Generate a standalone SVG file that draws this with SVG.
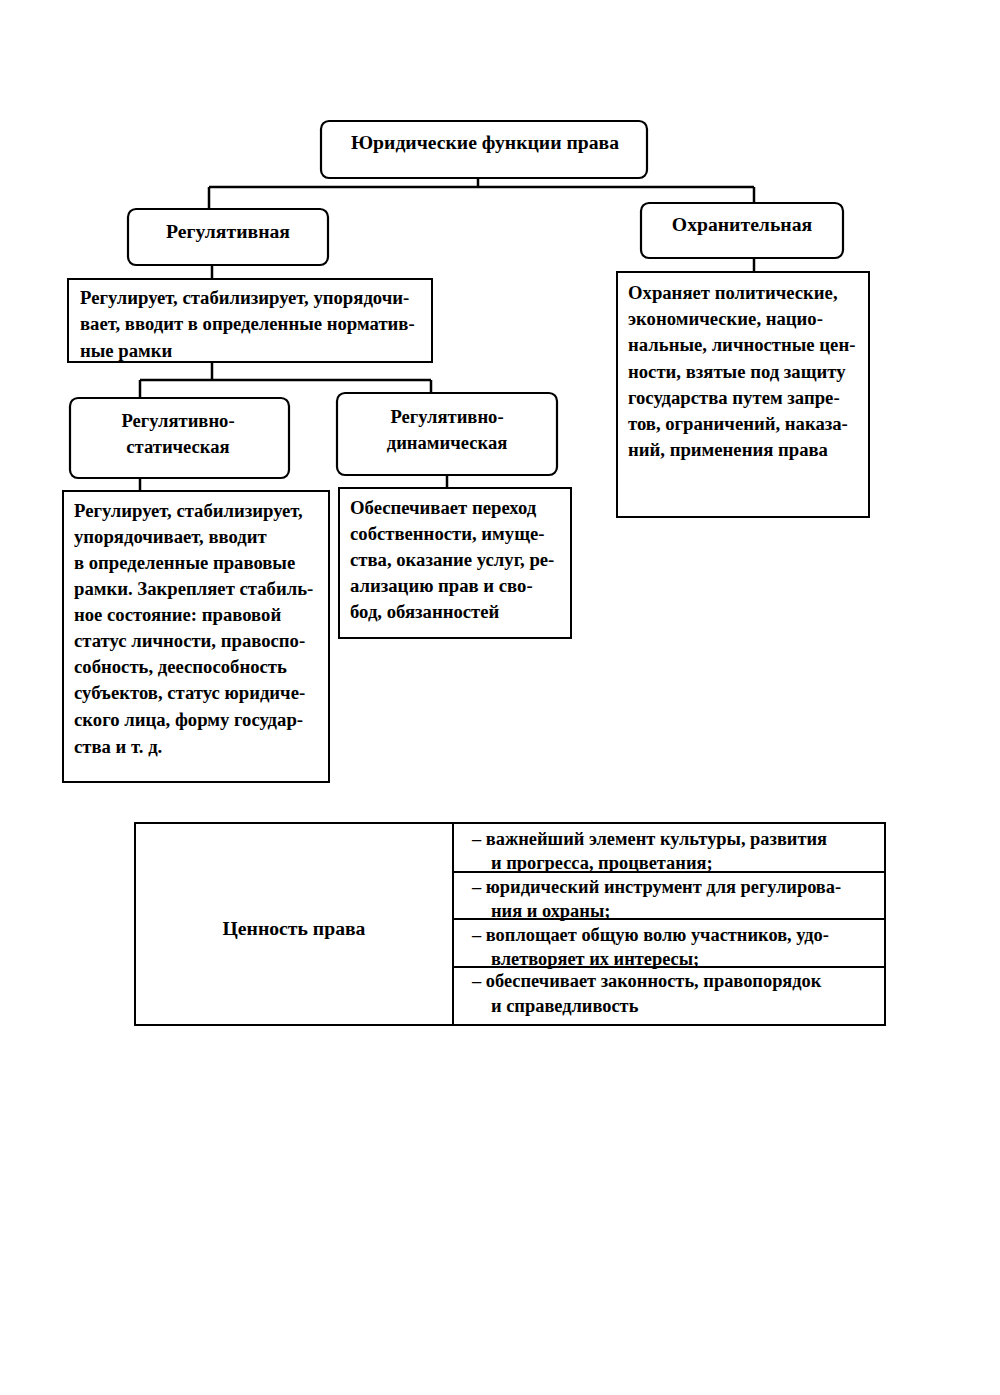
<svg xmlns="http://www.w3.org/2000/svg" width="1000" height="1395" viewBox="0 0 1000 1395">
<style>
.rbox{fill:#fff;stroke:#000;stroke-width:2.2}
.box{fill:#fff;stroke:#000;stroke-width:2}
.con{fill:none;stroke:#000;stroke-width:2.5}
.h{font-family:"Liberation Serif","Times New Roman",serif;font-weight:bold;font-size:19.7px;fill:#000;text-anchor:middle}
.s{font-family:"Liberation Serif","Times New Roman",serif;font-weight:bold;font-size:18.6px;fill:#000;text-anchor:middle}
.t{font-family:"Liberation Serif","Times New Roman",serif;font-weight:bold;font-size:18.7px;fill:#000}
.tb{font-family:"Liberation Serif","Times New Roman",serif;font-weight:bold;font-size:18.4px;fill:#000}
</style>
<rect width="1000" height="1395" fill="#fff"/>
<g id="connectors">
<path class="con" d="M478 178V187M209 187H754M209 187V209M754 187V203"/>
<path class="con" d="M212 265V279"/>
<path class="con" d="M754 258V272"/>
<path class="con" d="M212 362V380M140 380H431M140 380V398M431 380V393"/>
<path class="con" d="M140 478V491"/>
<path class="con" d="M447 475V488"/>
</g>
<g id="root">
<rect class="rbox" x="321" y="121" width="326" height="57" rx="8"/>
<text class="h" x="485" y="149">Юридические функции права</text>
</g>
<g id="regulative">
<rect class="rbox" x="128" y="209" width="200" height="56" rx="8"/>
<text class="h" x="228" y="238">Регулятивная</text>
</g>
<g id="regulative-desc">
<rect class="box" x="68" y="279" width="364" height="83"/>
<text class="t" x="80" y="304">Регулирует, стабилизирует, упорядочи-</text>
<text class="t" x="80" y="330">вает, вводит в определенные норматив-</text>
<text class="t" x="80" y="357">ные рамки</text>
</g>
<g id="protective">
<rect class="rbox" x="641" y="203" width="202" height="55" rx="8"/>
<text class="h" x="742" y="231">Охранительная</text>
</g>
<g id="protective-desc">
<rect class="box" x="617" y="272" width="252" height="245"/>
<text class="t" x="628" y="299">Охраняет политические,</text>
<text class="t" x="628" y="325">экономические, нацио-</text>
<text class="t" x="628" y="351">нальные, личностные цен-</text>
<text class="t" x="628" y="378">ности, взятые под защиту</text>
<text class="t" x="628" y="404">государства путем запре-</text>
<text class="t" x="628" y="430">тов, ограничений, наказа-</text>
<text class="t" x="628" y="456">ний, применения права</text>
</g>
<g id="static">
<rect class="rbox" x="70" y="398" width="219" height="80" rx="8"/>
<text class="s" x="178" y="427">Регулятивно-</text>
<text class="s" x="178" y="453">статическая</text>
</g>
<g id="static-desc">
<rect class="box" x="63" y="491" width="266" height="291"/>
<text class="t" x="74" y="517">Регулирует, стабилизирует,</text>
<text class="t" x="74" y="543">упорядочивает, вводит</text>
<text class="t" x="74" y="569">в определенные правовые</text>
<text class="t" x="74" y="595">рамки. Закрепляет стабиль-</text>
<text class="t" x="74" y="621">ное состояние: правовой</text>
<text class="t" x="74" y="647">статус личности, правоспо-</text>
<text class="t" x="74" y="673">собность, дееспособность</text>
<text class="t" x="74" y="699">субъектов, статус юридиче-</text>
<text class="t" x="74" y="726">ского лица, форму государ-</text>
<text class="t" x="74" y="753">ства и т. д.</text>
</g>
<g id="dynamic">
<rect class="rbox" x="337" y="393" width="220" height="82" rx="8"/>
<text class="s" x="447" y="423">Регулятивно-</text>
<text class="s" x="447" y="449">динамическая</text>
</g>
<g id="dynamic-desc">
<rect class="box" x="339" y="488" width="232" height="150"/>
<text class="t" x="350" y="514">Обеспечивает переход</text>
<text class="t" x="350" y="540">собственности, имуще-</text>
<text class="t" x="350" y="566">ства, оказание услуг, ре-</text>
<text class="t" x="350" y="592">ализацию прав и сво-</text>
<text class="t" x="350" y="618">бод, обязанностей</text>
</g>
<g id="value-table">
<rect class="box" x="135" y="823" width="750" height="202"/>
<path class="box" d="M453 823V1025M453 872H885M453 919H885M453 967H885"/>
<text class="h" x="294" y="935">Ценность права</text>
<text class="tb" x="472" y="845">– важнейший элемент культуры, развития</text>
<text class="tb" x="491" y="869">и прогресса, процветания;</text>
<text class="tb" x="472" y="893">– юридический инструмент для регулирова-</text>
<text class="tb" x="491" y="917">ния и охраны;</text>
<text class="tb" x="472" y="941">– воплощает общую волю участников, удо-</text>
<text class="tb" x="491" y="965">влетворяет их интересы;</text>
<text class="tb" x="472" y="987">– обеспечивает законность, правопорядок</text>
<text class="tb" x="491" y="1012">и справедливость</text>
</g>
</svg>
